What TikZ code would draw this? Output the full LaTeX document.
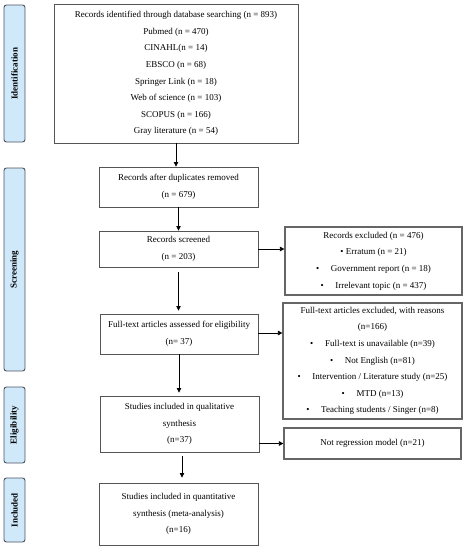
\documentclass[tikz,border=0pt]{standalone}
\usepackage{fontspec}
\setmainfont{Liberation Serif}
\usetikzlibrary{arrows.meta,calc}
\definecolor{sidefill}{HTML}{CFE8FA}
\definecolor{sidedraw}{HTML}{4A5560}
\definecolor{boxdraw}{HTML}{555555}
\tikzset{
  box/.style={draw=boxdraw, line width=0.9pt, align=center, inner sep=0pt,
    font={\fontsize{9}{16.6}\selectfont}},
  rbox/.style={box, line width=1.2pt, draw=boxdraw!90},
  side/.style={draw=sidedraw, fill=sidefill, line width=0.9pt, rounded corners=2.5pt,
    rotate=90, inner sep=0pt, font={\fontsize{9}{10}\selectfont\bfseries}},
  arr/.style={-{Triangle[length=4.5pt,width=4.5pt]}, line width=0.7pt, black}
}
\begin{document}
\begin{tikzpicture}[x=1pt,y=-1pt]
\useasboundingbox (0,0) rectangle (466,550);
% side labels
\node[side, minimum width=137pt, minimum height=21pt] (sid) at (14.5,73.5) {Identification};
\node[side, minimum width=203pt, minimum height=21pt] (sscr) at (14.5,269.5) {Screening};
\node[side, minimum width=76pt, minimum height=21pt] (selg) at (14.5,425) {Eligibility};
\node[side, minimum width=64pt, minimum height=21pt] (sinc) at (14.5,510) {Included};
% main boxes
\node[box, minimum width=244pt, minimum height=139pt] (b1) at (176,73.5)
 {Records identified through database searching (n = 893)\\Pubmed (n = 470)\\CINAHL(n = 14)\\EBSCO (n = 68)\\Springer Link (n = 18)\\Web of science (n = 103)\\SCOPUS (n = 166)\\Gray literature (n = 54)};
\node[box, minimum width=159pt, minimum height=40pt] (b2) at (178.5,187)
 {Records after duplicates removed\\(n = 679)};
\node[box, minimum width=159pt, minimum height=36pt] (b3) at (178.5,249)
 {Records screened\\(n = 203)};
\node[rbox, minimum width=177pt, minimum height=68pt] (b4) at (373.5,261)
 {Records excluded (n = 476)\\\textbullet{} Erratum (n = 21)\\\textbullet\hspace{1.3em}Government report (n = 18)\\\textbullet\hspace{1.3em}Irrelevant topic (n = 437)};
\node[box, minimum width=158pt, minimum height=40pt] (b5) at (179,334)
 {Full-text articles assessed for eligibility\\(n= 37)};
\node[rbox, minimum width=179pt, minimum height=116pt] (b6) at (372.5,361)
 {Full-text articles excluded, with reasons\\(n=166)\\\textbullet\hspace{1.3em}Full-text is unavailable (n=39)\\\textbullet\hspace{1.3em}Not English (n=81)\\\textbullet\hspace{1.3em}Intervention / Literature study (n=25)\\\textbullet\hspace{1.3em}MTD (n=13)\\\textbullet\hspace{1.3em}Teaching students / Singer (n=8)};
\node[box, minimum width=159pt, minimum height=56pt] (b7) at (179.5,424)
 {Studies included in qualitative\\synthesis\\(n=37)};
\node[rbox, minimum width=177pt, minimum height=31pt] (b8) at (372.5,443.5)
 {Not regression model (n=21)};
\node[box, minimum width=159pt, minimum height=62pt] (b9) at (178.5,514)
 {Studies included in quantitative\\synthesis (meta-analysis)\\(n=16)};
% arrows
\draw[arr] (b1.south) -- (b1.south |- b2.north);
\draw[arr] (b2.south) -- (b2.south |- b3.north);
\draw[arr] (b3.east) -- (b3.east -| b4.west);
\draw[arr, shorten <=5pt, shorten >=3pt] (b3.south) -- (b3.south |- b5.north);
\draw[arr] ($(b5.east)+(0,-1)$) -- ($(b5.east -| b6.west)+(0,-1)$);
\draw[arr, shorten >=3pt] (b5.south) -- (b5.south |- b7.north);
\draw[arr] (b7.east |- b8.west) -- (b8.west);
\draw[arr, shorten <=4pt, shorten >=5pt] ($(b7.south)+(2.5,0)$) -- ($(b7.south |- b9.north)+(2.5,0)$);
\end{tikzpicture}
\end{document}
